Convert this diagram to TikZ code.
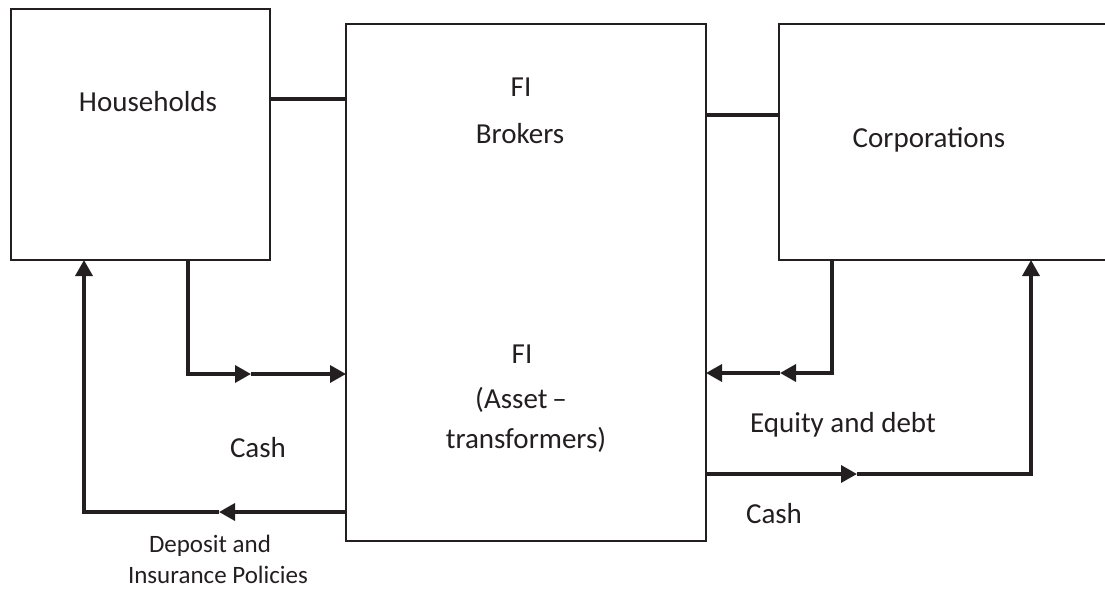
\documentclass[tikz,border=0pt]{standalone}
\usepackage{fontspec}
\setmainfont{Carlito}
\usetikzlibrary{arrows.meta}
\definecolor{ink}{HTML}{231F20}
\begin{document}
\begin{tikzpicture}[x=1pt,y=-1pt,
  box/.style={draw=ink, line width=2.2pt, inner sep=0pt, outer sep=0pt, rectangle},
  link/.style={draw=ink, line width=3.2pt},
  flow/.style={draw=ink, line width=3.4pt, -{Triangle[length=16pt,width=17pt]}},
  lbl/.style={anchor=base, inner sep=0pt, text=ink, font=\fontsize{29}{34}\selectfont},
  small/.style={lbl, font=\fontsize{25}{30}\selectfont}]
\useasboundingbox (0,0) rectangle (1105,591);
\clip (0,0) rectangle (1105,591);

% boxes
\node[box, minimum width=259pt, minimum height=251pt] (hh)   at (140.5,134.5) {};
\node[box, minimum width=360pt, minimum height=517pt] (fi)   at (526,282.5) {};
\node[box, minimum width=341pt, minimum height=236pt] (corp) at (949.5,142) {};

% helper coordinates
\coordinate (r1) at (0,99);
\coordinate (r2) at (0,115);
\coordinate (c1) at (188,0);
\coordinate (m1) at (251,374);
\coordinate (m2) at (219,512);
\coordinate (c2) at (84,512);
\coordinate (c3) at (832,373);
\coordinate (m3) at (780,373);
\coordinate (m4) at (857,474);
\coordinate (c4) at (1031,474);

% plain links
\draw[link] (hh.east |- r1) -- (fi.west |- r1);
\draw[link] (fi.east |- r2) -- (corp.west |- r2);

% cash from households
\draw[flow] (hh.south -| c1) |- (m1);
\draw[flow] (m1) -- (fi.west |- m1);

% deposit and insurance policies
\draw[flow] (fi.west |- m2) -- (m2);
\draw[flow] (m2) -- (c2) -- (hh.south -| c2);

% equity and debt
\draw[flow] (corp.south -| c3) -- (c3) -- (m3);
\draw[flow] (m3) -- (fi.east |- m3);

% cash to corporations
\draw[flow] (fi.east |- m4) -- (m4);
\draw[flow] (m4) -- (c4) -- (corp.south -| c4);

% labels
\node[lbl] (thh) at (148,112) {Households};
\node[lbl] (tfi1) at (521,97) {FI};
\node[lbl] (tbrk) at (520,143) {Brokers};
\node[lbl] (tcorp) at (929,147) {Corporations};
\node[lbl] (tfi2) at (522,363) {FI};
\node[lbl] (tasset) at (521,408) {(Asset\,–};
\node[lbl] (ttrans) at (526,448) {transformers)};
\node[lbl] (tcash1) at (258,457) {Cash};
\node[lbl] (tequity) at (843,432) {Equity and debt};
\node[lbl] (tcash2) at (774,523) {Cash};
\node[small] (tdep) at (210,552) {Deposit and};
\node[small] (tins) at (218,583) {Insurance Policies};
\end{tikzpicture}
\end{document}
